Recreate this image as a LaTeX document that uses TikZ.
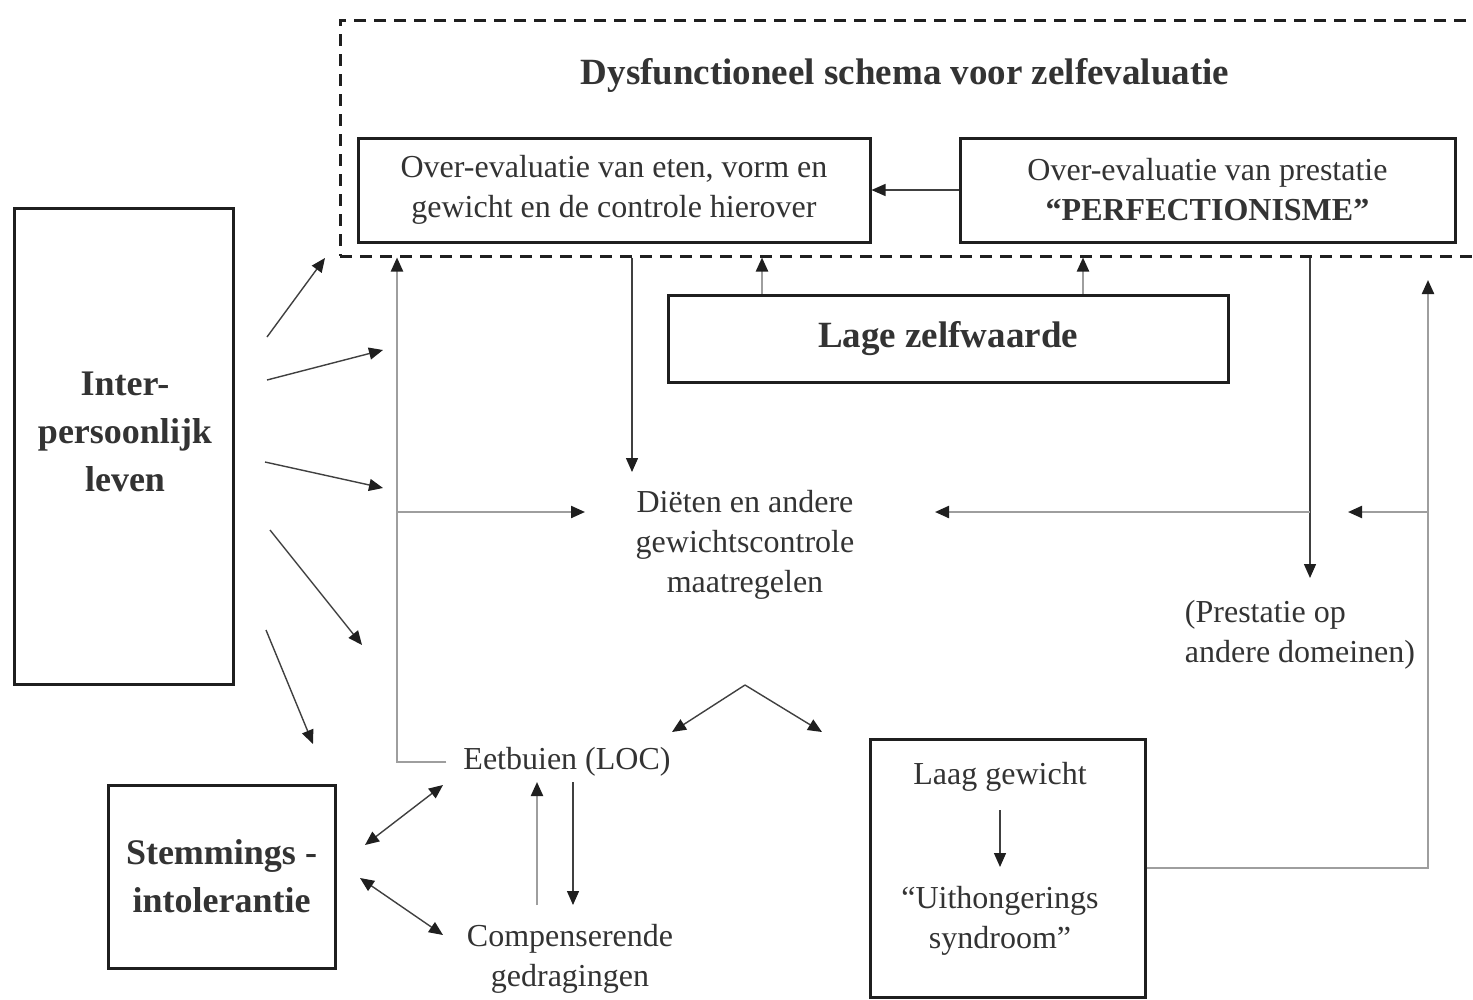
\documentclass[tikz,border=0pt]{standalone}
\usepackage{fontspec}
\setmainfont{Liberation Serif}
\usetikzlibrary{arrows.meta}
\definecolor{ink}{gray}{0.12}
\definecolor{txt}{gray}{0.2}
\definecolor{gline}{gray}{0.62}
\tikzset{
  box/.style={draw=ink, line width=3pt, inner sep=0pt, text=txt, align=center},
  lbl/.style={inner sep=0pt, text=txt, align=center},
  reg/.style={font=\fontsize{32}{40}\selectfont},
  bigb/.style={font=\fontsize{36}{48}\selectfont\bfseries},
  tip/.style={-{Triangle[length=14pt,width=12pt,color=ink]}},
  arr/.style={draw=ink!85, line width=1.4pt, tip},
  garr/.style={draw=gline, line width=2.2pt, tip},
  dbl/.style={draw=ink!85, line width=1.4pt, {Triangle[length=14pt,width=12pt,color=ink]}-{Triangle[length=14pt,width=12pt,color=ink]}},
}
\begin{document}
\begin{tikzpicture}[x=1pt,y=-1pt]
\useasboundingbox[fill=white] (0,0) rectangle (1473,999);

% dashed schema frame (right side runs past the picture edge)
\begin{scope}
\clip (0,0) rectangle (1473,999);
\node[draw=ink, line width=3pt, dash pattern=on 12pt off 8pt, minimum width=1145pt, minimum height=236pt, inner sep=0pt] (schema) at (912.5,138) {};
\end{scope}
\node[lbl, font=\fontsize{37}{44}\selectfont\bfseries] (title) at (905,75) {Dysfunctioneel schema voor zelfevaluatie};

% boxes
\node[box, reg, minimum width=512pt, minimum height=104pt] (A) at (614,190) {Over-evaluatie van eten, vorm en\\gewicht en de controle hierover};
\node[box, reg, minimum width=495pt, minimum height=104pt] (B) at (1207.5,190) {Over-evaluatie van prestatie\\\textbf{“PERFECTIONISME”}};
\node[box, minimum width=560pt, minimum height=87pt, font=\fontsize{37}{44}\selectfont\bfseries] (lage) at (948,338.5) {Lage zelfwaarde};
\node[box, minimum width=219pt, minimum height=476pt] (inter) at (123.5,446) {};
\node[lbl, bigb] (intertext) at (125,432) {Inter-\\persoonlijk\\leven};
\node[box, bigb, minimum width=227pt, minimum height=183pt] (stem) at (221.5,876.5) {Stemmings -\\intolerantie};
\node[box, minimum width=275pt, minimum height=258pt] (laag) at (1007.5,868) {};
\node[lbl, reg] (laag1) at (1000,777) {Laag gewicht};
\node[lbl, reg] (syn) at (1000,921) {“Uithongerings\\syndroom”};

% free text nodes
\node[lbl, reg] (diet) at (745,545) {Diëten en andere\\gewichtscontrole\\maatregelen};
\node[lbl, reg, inner xsep=17pt] (eet) at (567,762) {Eetbuien (LOC)};
\node[lbl, reg] (comp) at (570,959) {Compenserende\\gedragingen};
\node[lbl, reg, align=left] (prest) at (1300,635) {(Prestatie op\\andere domeinen)};

% coordinates
\coordinate (dTop) at (632,472);
\coordinate (colL) at (397,512);
\coordinate (dL) at (585,512);
\coordinate (colR) at (1310,512);
\coordinate (pTop) at (1310,578);
\coordinate (dR) at (935,512);
\coordinate (colRR) at (1428,512);
\coordinate (rrTop) at (1428,280);
\coordinate (pR) at (1348,512);
\coordinate (apex) at (745,685);
\coordinate (vL) at (672,732);
\coordinate (vR) at (822,732);
\coordinate (ecUpS) at (537,905);
\coordinate (ecUpE) at (537,782);
\coordinate (ecDnS) at (573,782);
\coordinate (ecDnE) at (573,905);
\coordinate (s1a) at (365,845);
\coordinate (s1b) at (443,785);
\coordinate (s2a) at (360,878);
\coordinate (s2b) at (443,935);
\coordinate (i1s) at (267,337); \coordinate (i1e) at (325,258);
\coordinate (i2s) at (267,380); \coordinate (i2e) at (383,350);
\coordinate (i3s) at (265,462); \coordinate (i3e) at (383,488);
\coordinate (i4s) at (270,530); \coordinate (i4e) at (362,645);
\coordinate (i5s) at (266,630); \coordinate (i5e) at (313,744);
\coordinate (lgS) at (1000,810);
\coordinate (lgE) at (1000,867);

% connectors
\draw[arr] (B.west) -- (A.east);
\draw[arr] (schema.south -| dTop) -- (dTop);
\draw[garr] ([xshift=-186pt]lage.north) -- ([xshift=-186pt]lage.north |- schema.south);
\draw[garr] ([xshift=135pt]lage.north) -- ([xshift=135pt]lage.north |- schema.south);

\draw[garr] (eet.west) -| (colL |- schema.south);
\draw[garr] (colL) -- (dL);

\draw[arr] (schema.south -| colR) -- (pTop);
\draw[garr] (colR) -- (dR);

\draw[garr] (laag.east) -| (rrTop);
\draw[garr] (colRR) -- (pR);

\draw[arr] (apex) -- (vL);
\draw[arr] (apex) -- (vR);

\draw[garr] (ecUpS) -- (ecUpE);
\draw[arr] (ecDnS) -- (ecDnE);

\draw[dbl] (s1a) -- (s1b);
\draw[dbl] (s2a) -- (s2b);

\draw[arr] (i1s) -- (i1e);
\draw[arr] (i2s) -- (i2e);
\draw[arr] (i3s) -- (i3e);
\draw[arr] (i4s) -- (i4e);
\draw[arr] (i5s) -- (i5e);

\draw[arr] (lgS) -- (lgE);
\end{tikzpicture}
\end{document}
